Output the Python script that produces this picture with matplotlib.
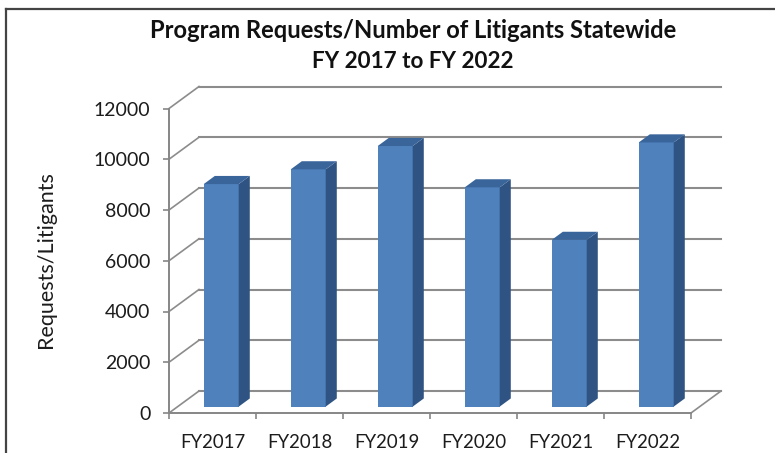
import matplotlib.pyplot as plt
from matplotlib.patches import Polygon

# values
years = ['FY2017', 'FY2018', 'FY2019', 'FY2020', 'FY2021', 'FY2022']
requests = [8770, 9350, 10270, 8640, 6570, 10410]
y_ticks = [0, 2000, 4000, 6000, 8000, 10000, 12000]

W, H = 775, 453
LEFT, RIGHT, FLOOR, TOP = 169, 691, 413, 108.5

# depth of the 3d box, in data units
DEPTH_X = 30 / ((RIGHT - LEFT) / len(years))
DEPTH_Y = 22 / ((FLOOR - TOP) / 12000)

# bar placement inside the box
BAR_W = 0.402
BAR_D0 = 0.29
BAR_D1 = 0.66

GRID = '#8c8c8c'
AXIS = '#868686'
FRONT = '#4f81bd'
SIDE = '#2f5382'
ROOF = '#3a659b'
TEXT = '#1c1c1c'
FONT = 'Lato'

plt.rcParams['font.family'] = FONT


def proj(x, v, d):
	# move a point back into the box, d=0 front and d=1 back wall
	return x + d * DEPTH_X, v + d * DEPTH_Y


fig = plt.figure(figsize=(W / 100, H / 100), dpi=100)
ax = fig.add_axes([LEFT / W, 1 - FLOOR / H, (RIGHT - LEFT) / W, (FLOOR - TOP) / H])
ax.set_xlim(0, len(years))
ax.set_ylim(0, 12000)
ax.patch.set_alpha(0)

# back wall and left wall lines
for v in y_ticks:
	x0, y0 = proj(0, v, 0)
	x1, y1 = proj(0, v, 1)
	x2, y2 = proj(len(years), v, 1)
	ax.plot([x1, x2], [y1, y2], color=GRID, lw=1.5, clip_on=False, zorder=1)
	ax.plot([x0, x1], [y0, y1], color=GRID, lw=1.2, clip_on=False, zorder=1)

# right edge of the floor
x0, y0 = proj(len(years), 0, 0)
x1, y1 = proj(len(years), 0, 1)
ax.plot([x0, x1], [y0, y1], color=GRID, lw=1.2, clip_on=False, zorder=1)

for i, val in enumerate(requests):
	cx = i + 0.5
	l = cx - BAR_W / 2
	r = cx + BAR_W / 2
	fx, fy = proj(0, 0, BAR_D0)
	bx, by = proj(0, 0, BAR_D1)
	ax.bar(cx + fx, val, width=BAR_W, bottom=fy, color=FRONT, clip_on=False, zorder=3)
	side = [(r + fx, fy), (r + bx, by), (r + bx, by + val), (r + fx, fy + val)]
	roof = [(l + fx, fy + val), (r + fx, fy + val), (r + bx, by + val), (l + bx, by + val)]
	ax.add_patch(Polygon(side, closed=True, color=SIDE, lw=0, clip_on=False, zorder=3))
	ax.add_patch(Polygon(roof, closed=True, color=ROOF, lw=0, clip_on=False, zorder=3))

for s in ['top', 'right']:
	ax.spines[s].set_visible(False)
for s in ['left', 'bottom']:
	ax.spines[s].set_color(AXIS)
	ax.spines[s].set_linewidth(1.4)
	ax.spines[s].set_zorder(4)

ax.set_yticks(y_ticks)
ax.set_xticks(range(len(years) + 1))
ax.set_xticklabels([])
ax.set_xticks([i + 0.5 for i in range(len(years))], minor=True)
ax.set_xticklabels(years, minor=True, fontsize=13.4, color=TEXT)
ax.tick_params(axis='x', which='major', length=4.3, width=1.2, color=AXIS)
ax.tick_params(axis='x', which='minor', length=0, pad=15)
ax.tick_params(axis='y', length=4.3, width=1.2, color=AXIS, pad=9, labelsize=14, labelcolor=TEXT)

fig.text(46 / W, 1 - 260 / H, 'Requests/Litigants', rotation=90, ha='center', va='center', fontsize=15.5, color=TEXT)
fig.text(413 / W, 1 - 30 / H, 'Program Requests/Number of Litigants Statewide', ha='center', va='center',
	fontsize=17.15, fontweight='bold', color='#111111')
fig.text(413 / W, 1 - 61 / H, 'FY 2017 to FY 2022', ha='center', va='center',
	fontsize=16.2, fontweight='bold', color='#111111')

# picture frame, it runs off the right and bottom edge
fig.add_artist(plt.Line2D([6 / W, 6 / W], [0, 1 - 9 / H], color='#444444', lw=1.6))
fig.add_artist(plt.Line2D([6 / W, 1], [1 - 9 / H, 1 - 9 / H], color='#444444', lw=1.6))

fig.savefig('out.png', dpi=100)
